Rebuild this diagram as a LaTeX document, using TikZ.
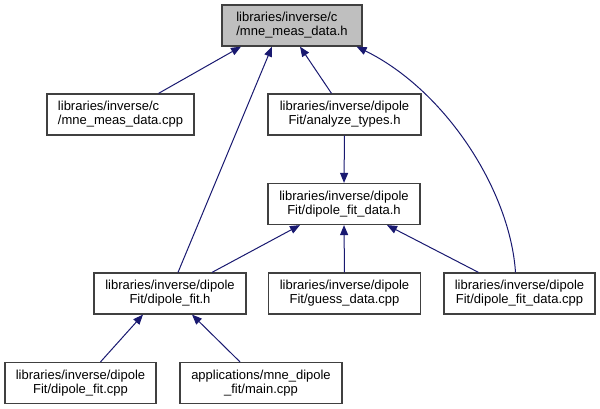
\documentclass[tikz,border=0pt]{standalone}
\usepackage{fontspec}
\setmainfont{Liberation Sans}
\usetikzlibrary{arrows.meta}
\definecolor{edgeblue}{HTML}{191970}
\definecolor{boxline}{HTML}{404040}
\definecolor{topfill}{HTML}{BFBFBF}
\tikzset{
  filebox/.style={draw=boxline, line width=1.2pt, fill=white, inner sep=0pt,
    minimum height=41pt, align=center,
    font=\fontsize{13}{14}\selectfont},
  depedge/.style={draw=edgeblue, line width=1pt,
    -{Triangle[length=10pt,width=8pt]}}
}
\begin{document}
\begin{tikzpicture}[x=1pt,y=-1pt]
\useasboundingbox (0,0) rectangle (600,409);
\node[filebox, fill=topfill, minimum width=140pt, align=left] (top) at (292,25.5) {libraries/inverse/c\\/mne\_meas\_data.h};
\node[filebox, minimum width=147pt, align=left] (mmcpp) at (120.5,114.5) {libraries/inverse/c\\/mne\_meas\_data.cpp};
\node[filebox, minimum width=153pt] (at) at (344.5,114.5) {libraries/inverse/dipole\\Fit/analyze\_types.h};
\node[filebox, minimum width=152pt] (fdh) at (344,204) {libraries/inverse/dipole\\Fit/dipole\_fit\_data.h};
\node[filebox, minimum width=152pt] (dfh) at (170,293.5) {libraries/inverse/dipole\\Fit/dipole\_fit.h};
\node[filebox, minimum width=152pt] (gd) at (344.5,293.5) {libraries/inverse/dipole\\Fit/guess\_data.cpp};
\node[filebox, minimum width=151pt] (fdcpp) at (519.5,293.5) {libraries/inverse/dipole\\Fit/dipole\_fit\_data.cpp};
\node[filebox, minimum width=151pt] (dfcpp) at (80.5,383) {libraries/inverse/dipole\\Fit/dipole\_fit.cpp};
\node[filebox, minimum width=162pt] (main) at (261,383) {applications/mne\_dipole\\\_fit/main.cpp};

\draw[depedge] ([xshift=38pt]mmcpp.north) -- ([xshift=-51pt]top.south);
\draw[depedge] ([xshift=8pt]dfh.north) -- ([xshift=-20pt]top.south);
\draw[depedge] ([xshift=-13pt]at.north) -- ([xshift=8pt]top.south);
\draw[depedge] ([xshift=-4pt]fdcpp.north) .. controls (510,190) and (445,90) .. ([xshift=-6pt]top.south east);
\draw[depedge] (at.south) -- (fdh.north);
\draw[depedge] ([xshift=42pt]dfh.north) -- ([xshift=-44pt]fdh.south);
\draw[depedge] (gd.north) -- (fdh.south);
\draw[depedge] ([xshift=-41pt]fdcpp.north) -- ([xshift=43pt]fdh.south);
\draw[depedge] ([xshift=20pt]dfcpp.north) -- ([xshift=-27pt]dfh.south);
\draw[depedge] ([xshift=-21pt]main.north) -- ([xshift=22pt]dfh.south);
\end{tikzpicture}
\end{document}
